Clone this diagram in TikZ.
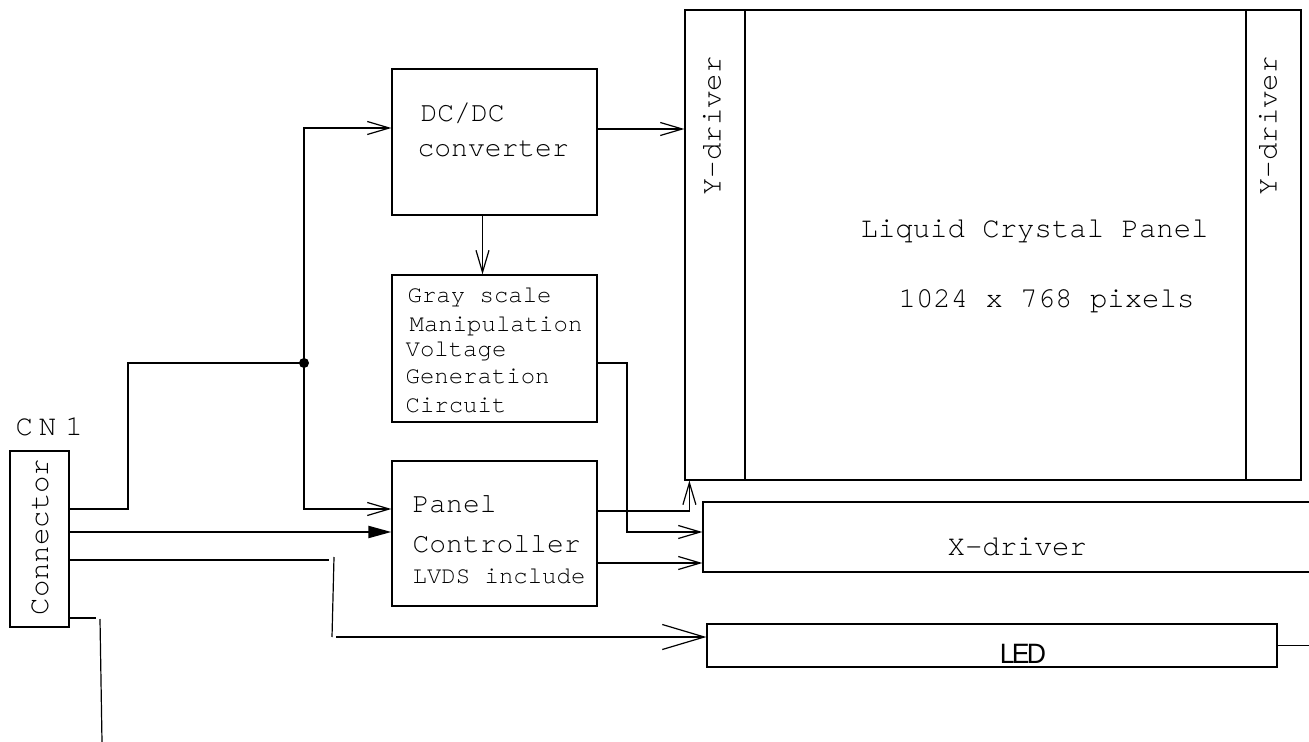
\documentclass[tikz,border=0pt]{standalone}
\usepackage{fontspec}
\setmainfont{TeX Gyre Cursor}
\newfontfamily\ledfont{Liberation Sans}
\usetikzlibrary{arrows.meta, positioning}

\begin{document}
\begin{tikzpicture}[x=0.5pt, y=-0.5pt, line width=0.6pt]

\tikzset{box/.style = {shape=rectangle, draw, inner sep=0pt}}
\tikzset{txt/.style = {inner sep=0pt, font=\fontsize{14.5}{16}\selectfont}}
\tikzset{smalltxt/.style = {inner sep=0pt, font=\fontsize{12}{13}\selectfont}}
\tikzset{arr/.style = {-{Straight Barb[length=11pt,width=6.5pt]}}}
\tikzset{bigarr/.style = {-{Straight Barb[length=21pt,width=12.5pt]}}}
\tikzset{fatarr/.style = {line width=1pt, -{Triangle[length=11.5pt,width=6pt]}}}

\useasboundingbox (0,0) rectangle (1309,742);
\clip (0,0) rectangle (1309,742);

% blocks
\node[box, minimum width=29.5pt, minimum height=88pt] (conn) at (39.5,539) {};
\node[box, minimum width=102.5pt, minimum height=73pt] (dcdc) at (494.5,142) {};
\node[box, minimum width=102.5pt, minimum height=73.5pt] (gray) at (494.5,348.5) {};
\node[box, minimum width=102.5pt, minimum height=72.5pt] (ctrl) at (494.5,533.5) {};
\node[box, minimum width=308pt, minimum height=235pt] (lcd) at (993,245) {};
\node[box, minimum width=30pt, minimum height=235pt] (ydrvl) at (715,245) {};
\node[box, minimum width=27.5pt, minimum height=235pt] (ydrvr) at (1273.5,245) {};
\node[box, minimum width=315pt, minimum height=35pt] (xdrv) at (1018,537) {};
\node[box, minimum width=285pt, minimum height=21.5pt] (led) at (992,645.5) {};

% texts
\node[txt, anchor=base west] (cnlbl) at (15,435) {C\hspace{3pt}N\hspace{4.5pt}1};
\node[txt, rotate=90] (conntxt) at (40,537) {Connector};
\node[txt, font=\fontsize{14}{16}\selectfont, anchor=base west] (dctxt) at (420,122) {DC/DC};
\node[txt, font=\fontsize{14}{16}\selectfont, anchor=base west] (convtxt) at (417,157) {converter};
\node[smalltxt, anchor=base west] (graytxt) at (407,303) {Gray scale};
\node[smalltxt, anchor=base west] (maniptxt) at (409,332) {Manipulation};
\node[smalltxt, anchor=base west] (volttxt) at (405,357) {Voltage};
\node[smalltxt, anchor=base west] (gentxt) at (405,384) {Generation};
\node[smalltxt, anchor=base west] (circtxt) at (405,412) {Circuit};
\node[txt, font=\fontsize{14}{16}\selectfont, anchor=base west] (paneltxt) at (412,512) {Panel};
\node[txt, font=\fontsize{14}{16}\selectfont, anchor=base west] (ctrltxt) at (412,552) {Controller};
\node[smalltxt, anchor=base west] (lvdstxt) at (412,583) {LVDS include};
\node[txt, anchor=base west] (lcdtxt) at (860,238) {Liquid Crystal Panel};
\node[txt, anchor=base west] (pixtxt) at (898,308) {1024 x 768 pixels};
\node[txt, rotate=90] (ylefttxt) at (712,126) {Y-driver};
\node[txt, rotate=90] (yrighttxt) at (1268,126) {Y-driver};
\node[txt, anchor=base west] (xtxt) at (947,555) {X-driver};
\node[inner sep=0pt, anchor=base, font=\ledfont\fontsize{14}{16}\selectfont] (ledtxt) at (1023,663) {\scalebox{0.95}[1]{L\kern-1.5pt E\kern-1.5pt D}};

% connector pins
\coordinate (c1) at (conn.east |- 0,509);
\coordinate (c2) at (conn.east |- 0,532);
\coordinate (c3) at (conn.east |- 0,560);
\coordinate (c4) at (conn.east |- 0,618);
\coordinate (jn) at (304,363);
\coordinate (b1) at (334,557);
\coordinate (b2) at (332,637);
\coordinate (b3) at (336,637);
\coordinate (e1) at (100,619);
\coordinate (e2) at (102,742);

% edges
\draw (c1) -- (128,509) |- (jn);
\fill (jn) circle (2.5pt);
\draw[arr] (jn) |- ([yshift=7pt]dcdc.west);
\draw[arr] (jn) |- ([yshift=12.25pt]ctrl.west);
\draw[fatarr] (c2) -- (c2 -| ctrl.west);
\draw (c3) -- (329,560);
\draw (b1) -- (b2);
\draw[bigarr] (b3) -- (b3 -| led.west);
\draw (c4) -- (96,618);
\draw (e1) -- (e2);

\draw[arr] ([yshift=6.5pt]dcdc.east) -- ([yshift=6.5pt]dcdc.east -| lcd.west);
\draw[arr] ([xshift=-6pt]dcdc.south) -- ([xshift=-6pt]gray.north);
\draw[arr] ([yshift=-7.25pt]gray.east) -- (627,363) |- ([yshift=2.5pt]xdrv.west);
\draw[arr] ([yshift=11.25pt]ctrl.east) -| ([xshift=2.5pt]lcd.south west);
\draw[arr] ([yshift=-14.75pt]ctrl.east) -- ([yshift=-14.75pt]ctrl.east -| xdrv.west);
\draw (led.east) -- ++(40,0);

\end{tikzpicture}
\end{document}
